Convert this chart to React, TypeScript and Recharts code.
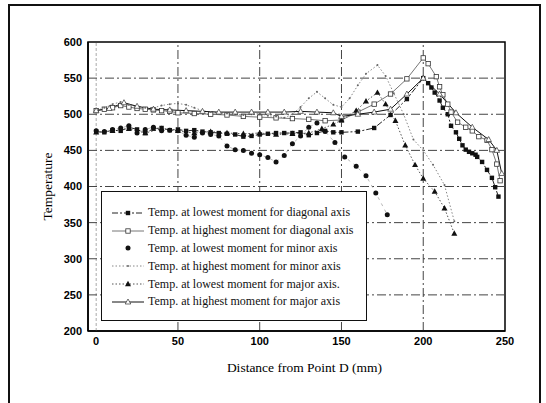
import React from "react"
import { LineChart, Line, XAxis, YAxis, ReferenceLine, ReferenceArea } from "recharts"

// Distance from point D (mm) and temperature readings for each series
const diagLowX = [0, 5, 10, 15, 20, 25, 30, 35, 40, 45, 50, 55, 60, 65, 70, 75, 80, 85, 90, 95, 100, 105, 110, 115, 120, 125, 130, 135, 140, 145, 150, 160, 170, 180, 190, 200, 203, 205, 207, 210, 212, 215, 217, 220, 222, 224, 226, 228, 230, 232, 233, 236, 239, 242, 244, 246]
const diagLowT = [476, 475, 478, 477, 482, 479, 474, 480, 481, 478, 479, 477, 478, 476, 475, 474, 473, 472, 469, 470, 472, 473, 474, 474, 474, 475, 471, 474, 477, 475, 475, 476, 481, 499, 521, 550, 543, 537, 530, 519, 509, 500, 484, 475, 466, 457, 451, 448, 446, 444, 441, 434, 423, 412, 399, 386]

const diagHighX = [0, 5, 10, 15, 20, 25, 30, 35, 40, 45, 50, 60, 70, 80, 90, 100, 110, 120, 130, 140, 150, 160, 170, 180, 190, 200, 203, 208, 210, 212, 215, 217, 221, 226, 230, 234, 239, 242, 245, 247]
const diagHighT = [505, 507, 509, 512, 510, 508, 507, 506, 505, 504, 502, 501, 500, 499, 497, 496, 495, 494, 493, 491, 492, 503, 514, 528, 549, 578, 570, 552, 538, 527, 514, 503, 489, 482, 477, 469, 464, 451, 431, 408]

const minorLowX = [0, 5, 10, 15, 20, 25, 30, 35, 40, 45, 50, 55, 60, 65, 70, 75, 80, 85, 90, 95, 100, 105, 110, 115, 120, 125, 130, 135, 140, 146, 152, 159, 165, 171, 178]
const minorLowT = [477, 476, 479, 481, 484, 474, 479, 482, 477, 478, 477, 471, 468, 474, 472, 470, 456, 451, 450, 446, 444, 440, 434, 443, 459, 470, 482, 488, 476, 461, 441, 428, 415, 391, 361]

const minorHighX = [0, 5, 10, 15, 20, 25, 30, 35, 40, 45, 50, 55, 60, 65, 70, 75, 80, 85, 90, 95, 100, 105, 110, 115, 120, 125, 130, 135, 140, 145, 150, 155, 160, 165, 172, 177, 182, 188, 194, 200, 206, 213, 219]
const minorHighT = [505, 509, 514, 517, 513, 511, 509, 509, 512, 514, 515, 513, 509, 505, 503, 502, 501, 500, 499, 500, 501, 498, 497, 495, 500, 510, 522, 531, 522, 513, 510, 522, 540, 556, 568, 553, 529, 500, 465, 450, 430, 402, 352]

const majorLowX = [0, 10, 20, 30, 40, 50, 60, 70, 80, 90, 100, 110, 120, 130, 138, 145, 150, 159, 165, 172, 177, 183, 189, 195, 200, 207, 213, 219]
const majorLowT = [475, 477, 480, 474, 480, 477, 474, 476, 474, 473, 474, 472, 473, 474, 480, 486, 492, 505, 518, 530, 514, 491, 457, 430, 411, 393, 370, 335]

const majorHighX = [0, 8, 17, 25, 35, 45, 55, 65, 75, 85, 95, 105, 115, 125, 135, 145, 150, 160, 170, 180, 190, 200, 210, 220, 230, 240, 245, 248]
const majorHighT = [505, 508, 516, 511, 507, 506, 505, 504, 503, 503, 503, 503, 503, 504, 503, 502, 497, 500, 503, 507, 528, 550, 528, 502, 482, 465, 450, 418]

const xTicks = [0, 50, 100, 150, 200, 250]
const yTicks = [200, 250, 300, 350, 400, 450, 500, 550, 600]
const gridX = [50, 100, 150, 200]
const gridY = [250, 300, 350, 400, 450, 500, 550]

const legendNames = [
	"Temp. at lowest moment for diagonal axis",
	"Temp. at highest moment for diagonal axis",
	"Temp. at lowest moment for minor axis",
	"Temp. at highest moment for minor axis",
	"Temp. at lowest moment for major axis.",
	"Temp. at highest moment for major axis"
]

const toPoints = (xs: number[], ts: number[]) => xs.map((x, i) => ({ x, t: ts[i] }))

// markers
const FilledSquare = ({ cx, cy }: any) => <rect x={cx - 2.2} y={cy - 2.2} width={4.4} height={4.4} fill="#111" />
const OpenSquare = ({ cx, cy }: any) => (
	<rect x={cx - 2.2} y={cy - 2.2} width={4.4} height={4.4} fill="#fff" stroke="#333" strokeWidth={0.8} />
)
const FilledCircle = ({ cx, cy }: any) => <circle cx={cx} cy={cy} r={2.5} fill="#111" />
const SmallDot = ({ cx, cy }: any) => <circle cx={cx} cy={cy} r={1} fill="#666" />
const FilledTri = ({ cx, cy }: any) => (
	<polygon points={`${cx},${cy - 3.2} ${cx - 3},${cy + 2.2} ${cx + 3},${cy + 2.2}`} fill="#111" />
)
const OpenTri = ({ cx, cy }: any) => (
	<polygon
		points={`${cx},${cy - 3} ${cx - 2.8},${cy + 2} ${cx + 2.8},${cy + 2}`}
		fill="#fff"
		stroke="#333"
		strokeWidth={0.7}
	/>
)

const series = [
	{ key: "dl", data: toPoints(diagLowX, diagLowT), stroke: "#222", dash: "6 2 2 2", width: 1, Marker: FilledSquare },
	{ key: "dh", data: toPoints(diagHighX, diagHighT), stroke: "#777", dash: undefined, width: 1, Marker: OpenSquare },
	{ key: "nl", data: toPoints(minorLowX, minorLowT), stroke: "#999", dash: "3 4", width: 0.7, Marker: FilledCircle },
	{ key: "nh", data: toPoints(minorHighX, minorHighT), stroke: "#888", dash: "1.5 2", width: 1, Marker: SmallDot },
	{ key: "jl", data: toPoints(majorLowX, majorLowT), stroke: "#555", dash: "1.5 2", width: 1, Marker: FilledTri },
	{ key: "jh", data: toPoints(majorHighX, majorHighT), stroke: "#111", dash: undefined, width: 1, Marker: OpenTri }
]

const LegendIcon = ({ s, showLine }: { s: (typeof series)[number]; showLine: boolean }) => {
	const M = s.Marker
	return (
		<svg width={34} height={12} style={{ display: "block" }}>
			{showLine && (
				<line x1={1} y1={6} x2={33} y2={6} stroke={s.stroke} strokeWidth={1} strokeDasharray={s.dash} />
			)}
			<M cx={17} cy={6} />
		</svg>
	)
}

const tickFont = { fontFamily: "'Liberation Sans', Arial, sans-serif", fontSize: 11, fontWeight: 700, fill: "#000" }

export default function App() {
	return (
		<div style={{ position: "relative", width: 546, height: 403, background: "#fff" }}>
			<style>{"body{margin:0}"}</style>
			<LineChart width={546} height={403} margin={{ top: 42, right: 41, bottom: 27, left: 0 }}>
				<XAxis
					type="number"
					dataKey="x"
					domain={[-5, 250]}
					ticks={xTicks}
					allowDataOverflow
					tickLine={false}
					tickSize={4}
					tickMargin={2}
					tick={tickFont}
					axisLine={{ stroke: "#000", strokeWidth: 1.5 }}
					height={45}
					label={{
						value: "Distance from Point D (mm)",
						position: "insideBottom",
						offset: 4,
						dx: 8,
						style: { fontFamily: "'Liberation Serif', 'Times New Roman', serif", fontSize: 13.5, fill: "#000" }
					}}
				/>
				<YAxis
					type="number"
					dataKey="t"
					domain={[200, 600]}
					ticks={yTicks}
					allowDataOverflow
					tickLine={false}
					tickSize={4}
					tickMargin={2}
					tick={tickFont}
					width={88}
					axisLine={{ stroke: "#000", strokeWidth: 1.5 }}
					label={{
						value: "Temperature",
						angle: -90,
						position: "center",
						dx: 3,
						style: { fontFamily: "'Liberation Serif', 'Times New Roman', serif", fontSize: 13.5, fill: "#000" }
					}}
				/>
				<ReferenceLine x={0} stroke="#aaa" strokeWidth={1} strokeDasharray="3 2" />
				{gridX.map((v) => (
					<ReferenceLine key={`gx${v}`} x={v} stroke="#444" strokeWidth={1} strokeDasharray="9 3 2 3" />
				))}
				{gridY.map((v) => (
					<ReferenceLine key={`gy${v}`} y={v} stroke="#444" strokeWidth={1} strokeDasharray="9 3 2 3" />
				))}
				<ReferenceArea x1={-5} x2={250} y1={200} y2={600} fill="none" stroke="#000" strokeWidth={1.5} />
				{series.map((s) => (
					<Line
						key={s.key}
						data={s.data}
						dataKey="t"
						type="linear"
						stroke={s.stroke}
						strokeWidth={s.width}
						strokeDasharray={s.dash}
						isAnimationActive={false}
						dot={(p: any) => <s.Marker key={`${s.key}${p.index}`} cx={p.cx} cy={p.cy} />}
						activeDot={false}
					/>
				))}
			</LineChart>

			{/* legend box over the plot */}
			<div
				style={{
					position: "absolute",
					left: 101,
					top: 191,
					width: 266,
					height: 130,
					boxSizing: "border-box",
					border: "1px solid #111",
					background: "#fff",
					paddingTop: 12,
					paddingLeft: 9,
					fontFamily: "'Liberation Serif', 'Times New Roman', serif",
					fontSize: 12,
					color: "#111"
				}}
			>
				{series.map((s, i) => (
					<div key={s.key} style={{ display: "flex", alignItems: "center", height: 17.8 }}>
						<LegendIcon s={s} showLine={s.key !== "nl"} />
						<span style={{ marginLeft: 3, whiteSpace: "nowrap" }}>{legendNames[i]}</span>
					</div>
				))}
			</div>

			{/* outer frame of the figure */}
			<div
				style={{
					position: "absolute",
					left: 8,
					top: 4,
					width: 533,
					height: 399,
					boxSizing: "border-box",
					borderLeft: "2px solid #111",
					borderTop: "2px solid #111",
					borderRight: "2px solid #111",
					pointerEvents: "none"
				}}
			/>
		</div>
	)
}
